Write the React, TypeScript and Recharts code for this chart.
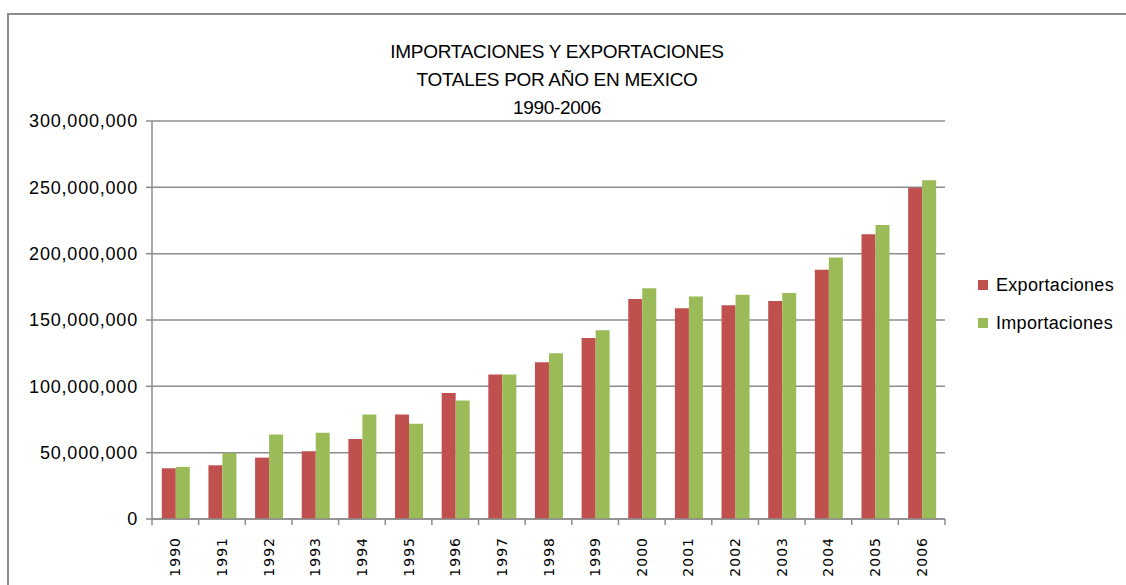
import React from 'react';
import { BarChart, Bar, XAxis, YAxis, CartesianGrid, Legend } from 'recharts';

const years = ['1990', '1991', '1992', '1993', '1994', '1995', '1996', '1997', '1998', '1999', '2000', '2001', '2002', '2003', '2004', '2005', '2006'];
const exportaciones = [38250000, 40500000, 46250000, 51000000, 60250000, 78750000, 95000000, 109000000, 118100000, 136400000, 165800000, 158800000, 161100000, 164300000, 187900000, 214600000, 249700000];
const importaciones = [39250000, 49750000, 63750000, 65000000, 78750000, 71750000, 89250000, 109000000, 124900000, 142200000, 173900000, 167800000, 169100000, 170400000, 197200000, 221600000, 255300000];
const yTicks = [0, 50000000, 100000000, 150000000, 200000000, 250000000, 300000000];
const titleLines = ['IMPORTACIONES Y EXPORTACIONES', 'TOTALES POR AÑO EN MEXICO', '1990-2006'];

const data = years.map((year, i) => ({
  year,
  Exportaciones: exportaciones[i],
  Importaciones: importaciones[i],
}));

const W = 1126;
const H = 585;
const PLOT_LEFT = 152;
const PLOT_RIGHT = 945;
const PLOT_TOP = 121;
const PLOT_BOTTOM = 519;
const BAND = (PLOT_RIGHT - PLOT_LEFT) / years.length;
const GRID = '#8c8c8c';
const RED = '#C0504D';
const GREEN = '#9BBB59';

const YearTick = (props: any) => {
  const { x, payload, index } = props;
  const left = x - BAND / 2;
  const right = x + BAND / 2;
  return (
    <g>
      <line x1={left} y1={PLOT_BOTTOM} x2={left} y2={PLOT_BOTTOM + 6} stroke={GRID} strokeWidth={1.5} />
      {index === years.length - 1 && (
        <line x1={right} y1={PLOT_BOTTOM} x2={right} y2={PLOT_BOTTOM + 6} stroke={GRID} strokeWidth={1.5} />
      )}
      <text
        x={x}
        y={PLOT_BOTTOM + 18}
        transform={`rotate(-90, ${x}, ${PLOT_BOTTOM + 18})`}
        textAnchor="end"
        dominantBaseline="central"
        fontFamily="DejaVu Sans"
        fontSize={14}
        letterSpacing={1}
        fill="#000"
      >
        {payload.value}
      </text>
    </g>
  );
};

const LegendContent = () => {
  const items = [
    { name: 'Exportaciones', color: RED },
    { name: 'Importaciones', color: GREEN },
  ];
  return (
    <div>
      {items.map((it, i) => (
        <div key={it.name} style={{ display: 'flex', alignItems: 'center', height: 20, marginBottom: i === 0 ? 18 : 0 }}>
          <span style={{ width: 10, height: 10, background: it.color, display: 'inline-block', marginRight: 8 }} />
          <span style={{ fontFamily: 'Liberation Sans', fontSize: 18, color: '#000', letterSpacing: 0.3 }}>{it.name}</span>
        </div>
      ))}
    </div>
  );
};

export default function App() {
  return (
    <div style={{ position: 'absolute', left: 0, top: 0, width: W, height: H, overflow: 'hidden', background: '#fff' }}>
      <div
        style={{
          position: 'absolute',
          left: 7,
          top: 13,
          width: W + 50,
          height: H + 50,
          borderTop: `2px solid ${GRID}`,
          borderLeft: `2px solid ${GRID}`,
        }}
      />
      <div
        style={{
          position: 'absolute',
          left: 337,
          width: 440,
          top: 38,
          textAlign: 'center',
          fontFamily: 'Liberation Sans',
          fontSize: 19,
          lineHeight: '28px',
          letterSpacing: -0.3,
          color: '#000',
        }}
      >
        {titleLines.map((t) => (
          <div key={t}>{t}</div>
        ))}
      </div>
      <div style={{ position: 'absolute', left: 0, top: 0 }}>
        <BarChart
          width={W}
          height={H}
          data={data}
          margin={{ top: PLOT_TOP, right: W - PLOT_RIGHT, left: PLOT_LEFT - 140, bottom: H - PLOT_BOTTOM - 60 }}
          barCategoryGap="21%"
          barGap={0}
        >
          <CartesianGrid horizontal vertical={false} stroke={GRID} strokeWidth={1.5} />
          <XAxis
            dataKey="year"
            height={60}
            interval={0}
            tickLine={false}
            axisLine={{ stroke: GRID, strokeWidth: 1.5 }}
            tick={<YearTick />}
          />
          <YAxis
            width={140}
            domain={[0, 300000000]}
            ticks={yTicks}
            interval={0}
            tickSize={6}
            tickMargin={8}
            tickLine={{ stroke: GRID, strokeWidth: 1.5 }}
            axisLine={{ stroke: GRID, strokeWidth: 1.5 }}
            tickFormatter={(v: number) => v.toLocaleString('en-US')}
            tick={{ fontFamily: 'Liberation Sans', fontSize: 18, fill: '#000', letterSpacing: 0.8 }}
          />
          <Legend
            layout="horizontal"
            align="center"
            verticalAlign="middle"
            content={<LegendContent />}
            wrapperStyle={{ left: 978, top: 275, width: 148, height: 80 }}
          />
          <Bar dataKey="Exportaciones" fill={RED} isAnimationActive={false} />
          <Bar dataKey="Importaciones" fill={GREEN} isAnimationActive={false} />
        </BarChart>
      </div>
    </div>
  );
}
